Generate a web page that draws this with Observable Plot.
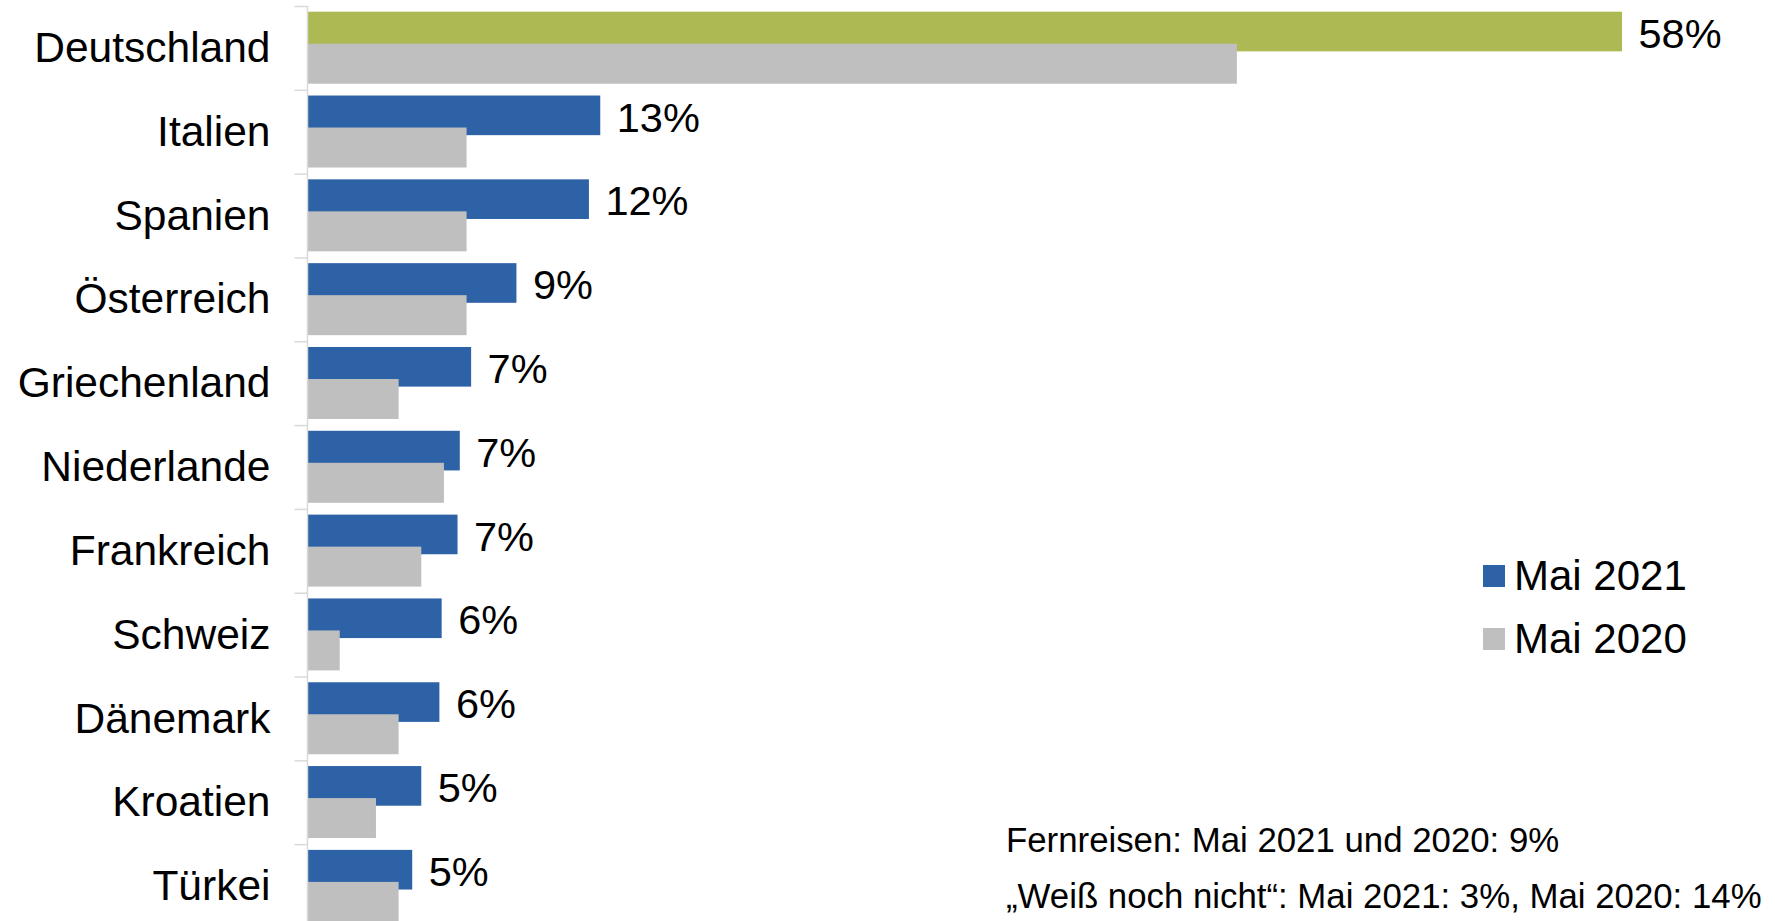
<!DOCTYPE html>
<html><head><meta charset="utf-8">
<script src="https://cdn.jsdelivr.net/npm/d3@7"></script>
<script src="https://cdn.jsdelivr.net/npm/@observablehq/plot@0.6"></script>
<style>
html,body{margin:0;padding:0;background:#fff;overflow:hidden}
#wrap{position:relative;width:1775px;height:921px;overflow:hidden;font-family:"Liberation Sans",Arial,sans-serif;background:#fff}
#chart{position:absolute;left:0;top:0}
#legend{position:absolute;left:1483px;top:544px}
#legend *{font-family:"Liberation Sans",Arial,sans-serif;font-size:42px;color:#000}
#legend [class$="-swatch"]{height:63px;display:flex;align-items:center;padding:0;margin:0}
#legend svg{margin-right:9px}
.note{position:absolute;left:1006px;font-size:34.8px;line-height:1;white-space:nowrap;color:#000}
</style></head><body>
<div id="wrap"><div id="chart"></div><div id="legend"></div>
<div class="note" id="n1" style="top:823.3px"></div><div class="note" id="n2" style="top:878.6px"></div></div>
<script>
const countries = ["Deutschland","Italien","Spanien","Österreich","Griechenland","Niederlande","Frankreich","Schweiz","Dänemark","Kroatien","Türkei"];
const may2021 = [58.0, 12.9, 12.4, 9.2, 7.2, 6.7, 6.6, 5.9, 5.8, 5.0, 4.6];
const may2020 = [41, 7, 7, 7, 4, 6, 5, 1.4, 4, 3, 4];
const valueLabels = ["58%","13%","12%","9%","7%","7%","7%","6%","6%","5%","5%"];
const highlight = ["Deutschland"];
const seriesNames = ["Mai 2021", "Mai 2020"];
const notes = ["Fernreisen: Mai 2021 und 2020: 9%", "„Weiß noch nicht“: Mai 2021: 3%, Mai 2020: 14%"];

const BLUE = "#2e62a7", GRAY = "#bfbfbf", GREEN = "#adb953", AXIS = "#d9d9d9";

const rows = countries.map((c, i) => ({
  country: c, v21: may2021[i], v20: may2020[i], label: valueLabels[i],
  key: highlight.includes(c) ? "Deutschland" : seriesNames[0]
}));

const H = 928, TOP = 6;
const bw = (H - TOP) / countries.length;

const chart = Plot.plot({
  width: 1775, height: H,
  marginLeft: 308, marginRight: 153, marginTop: TOP, marginBottom: 0,
  style: {fontFamily: "Liberation Sans, Arial, sans-serif", background: "#fff", color: "#000"},
  x: {domain: [0, 58], axis: null},
  y: {domain: countries, padding: 0, round: false},
  color: {domain: [seriesNames[0], seriesNames[1], "Deutschland"], range: [BLUE, GRAY, GREEN]},
  marks: [
    Plot.barX(rows, {x: "v21", y: "country", fill: "key", insetTop: bw * 0.068, insetBottom: bw * 0.459}),
    Plot.barX(rows, {x: "v20", y: "country", fill: () => seriesNames[1], insetTop: bw * 0.45, insetBottom: bw * 0.073}),
    Plot.ruleX([0], {stroke: AXIS, strokeWidth: 1.5, dx: -1}),
    Plot.ruleY(countries, {y: d => d, x1: -0.6, x2: 0, dy: -bw / 2, stroke: AXIS, strokeWidth: 1.5}),
    Plot.axisY({tickSize: 0, tickPadding: 38, fontSize: 42.5, label: null}),
    Plot.text(rows, {x: "v21", y: "country", text: "label", textAnchor: "start", dx: 16, dy: -14, fontSize: 41.5, fill: "#000"})
  ]
});
document.getElementById("chart").appendChild(chart);

const leg = Plot.legend({
  legend: "swatches",
  color: {type: "ordinal", domain: seriesNames, range: [BLUE, GRAY]},
  columns: 1, swatchSize: 22, className: "lg"
});
document.getElementById("legend").appendChild(leg);

document.getElementById("n1").textContent = notes[0];
document.getElementById("n2").textContent = notes[1];
</script>
</body></html>
